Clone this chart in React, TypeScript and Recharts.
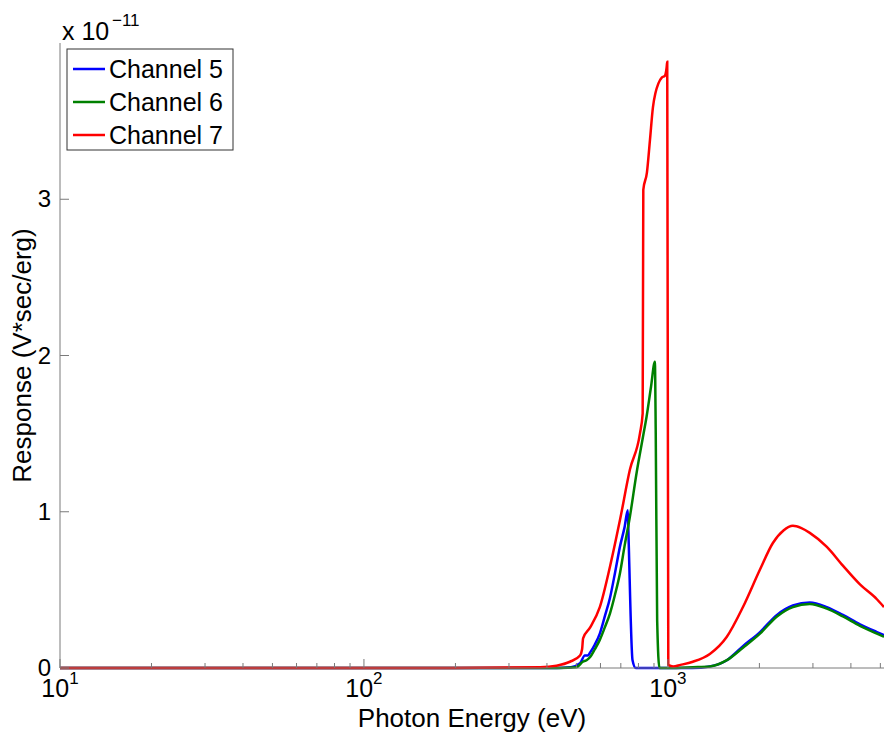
import { LineChart, Line, XAxis, YAxis } from "recharts";

// photon energy (eV) and response (x 1e-11 V*sec/erg) per channel
const energy5 = [10, 430, 480, 514, 533, 545, 555, 575, 597, 620, 645, 670, 696, 720, 738, 742, 765, 784, 1000, 1200, 1374, 1563, 1766, 2009, 2285, 2578, 2930, 3334, 3765, 4284, 4871, 5140];
const resp5 = [0, 0, 0.005, 0.03, 0.08, 0.08, 0.1, 0.15, 0.22, 0.33, 0.45, 0.61, 0.78, 0.9, 1.01, 0.85, 0.05, 0, 0, 0, 0.01, 0.05, 0.14, 0.23, 0.34, 0.4, 0.42, 0.39, 0.34, 0.28, 0.23, 0.21];

const energy6 = [10, 440, 500, 525, 540, 555, 575, 597, 620, 645, 670, 696, 720, 750, 789, 828, 851, 880, 906, 912, 922, 938, 1000, 1208, 1374, 1563, 1766, 2009, 2285, 2578, 2930, 3334, 3765, 4284, 4871, 5140];
const resp6 = [0, 0, 0.005, 0.04, 0.05, 0.07, 0.12, 0.18, 0.26, 0.35, 0.47, 0.61, 0.78, 0.97, 1.25, 1.48, 1.61, 1.8, 1.96, 1.5, 0.3, 0, 0, 0.005, 0.01, 0.05, 0.13, 0.22, 0.33, 0.39, 0.41, 0.38, 0.33, 0.27, 0.22, 0.2];

const energy7 = [10, 170, 380, 430, 476, 514, 522, 526, 555, 597, 645, 696, 750, 809, 826, 830, 853, 873, 893, 910, 930, 956, 977, 990, 995, 1003, 1040, 1100, 1208, 1374, 1563, 1766, 2009, 2215, 2400, 2578, 2750, 2930, 3334, 3765, 4284, 4871, 5140];
const resp7 = [0, 0, 0.005, 0.015, 0.04, 0.08, 0.12, 0.19, 0.26, 0.39, 0.65, 0.95, 1.27, 1.5, 1.63, 3.06, 3.17, 3.38, 3.59, 3.68, 3.74, 3.78, 3.79, 3.84, 3.88, 0.02, 0.01, 0.02, 0.04, 0.09, 0.2, 0.39, 0.63, 0.8, 0.88, 0.91, 0.895, 0.865, 0.775, 0.655, 0.535, 0.44, 0.39];

const xTicks = [10, 20, 30, 40, 50, 60, 70, 80, 90, 100, 200, 300, 400, 500, 600, 700, 800, 900, 1000, 2000, 3000, 4000, 5000];
const yTicks = [0, 1, 2, 3];
const majorX = [10, 100, 1000];

const series = [
  { name: "Channel 5", color: "#0000ff", energy: energy5, resp: resp5 },
  { name: "Channel 6", color: "#008000", energy: energy6, resp: resp6 },
  { name: "Channel 7", color: "#ff0000", energy: energy7, resp: resp7 },
];

const FONT = "'Liberation Sans', Arial, sans-serif";
const AXIS = "#7a7a7a";

const BottomTick = (props: any) => {
  const { x, y, payload } = props;
  const v = payload.value;
  const major = majorX.includes(v);
  return (
    <g>
      <line x1={x} y1={y} x2={x} y2={y - (major ? 9 : 5)} stroke={AXIS} />
      {major && (
        <text x={x} y={y + 29} textAnchor="middle" fontSize={25} fontFamily={FONT} fill="#000">
          <tspan>10</tspan>
          <tspan dy={-13} fontSize={17}>{Math.round(Math.log10(v))}</tspan>
        </text>
      )}
    </g>
  );
};

const TopTick = (props: any) => {
  const { x, y, payload } = props;
  const major = majorX.includes(payload.value);
  return <line x1={x} y1={y} x2={x} y2={y + (major ? 9 : 5)} stroke={AXIS} />;
};

const LeftTick = (props: any) => {
  const { x, y, payload } = props;
  return (
    <g>
      <line x1={x} y1={y} x2={x + 9} y2={y} stroke={AXIS} />
      <text x={x - 9} y={y + 8} textAnchor="end" fontSize={24} fontFamily={FONT} fill="#000">
        {payload.value}
      </text>
    </g>
  );
};

const RightTick = (props: any) => {
  const { x, y } = props;
  return <line x1={x} y1={y} x2={x - 9} y2={y} stroke={AXIS} />;
};

export default function App() {
  return (
    <div style={{ position: "relative", width: 885, height: 736, background: "#fff" }}>
      <style>{"body{margin:0}"}</style>
      <LineChart width={885} height={736} margin={{ top: 43, right: 1, bottom: 0, left: 0 }}>
        <XAxis
          dataKey="e"
          type="number"
          scale="log"
          domain={[10, 5140]}
          allowDataOverflow
          ticks={xTicks}
          interval={0}
          height={68}
          tickSize={0}
          tickMargin={0}
          tick={<BottomTick />}
          axisLine={{ stroke: AXIS }}
          label={{ value: "Photon Energy (eV)", position: "insideBottom", offset: 9, fontSize: 26, fontFamily: FONT, fill: "#000" }}
        />
        <XAxis
          xAxisId="top"
          orientation="top"
          dataKey="e"
          type="number"
          scale="log"
          domain={[10, 5140]}
          allowDataOverflow
          ticks={xTicks}
          interval={0}
          height={0}
          tickSize={0}
          tickMargin={0}
          tick={<TopTick />}
          axisLine={{ stroke: AXIS }}
        />
        <YAxis
          type="number"
          domain={[0, 4]}
          ticks={yTicks}
          interval={0}
          width={60}
          tickSize={0}
          tickMargin={0}
          tick={<LeftTick />}
          axisLine={{ stroke: AXIS }}
          label={{ value: "Response (V*sec/erg)", angle: -90, position: "insideLeft", offset: 22, style: { textAnchor: "middle" }, fontSize: 26, fontFamily: FONT, fill: "#000" }}
        />
        <YAxis
          yAxisId="right"
          orientation="right"
          type="number"
          domain={[0, 4]}
          ticks={yTicks}
          interval={0}
          width={0}
          tickSize={0}
          tickMargin={0}
          tick={<RightTick />}
          axisLine={{ stroke: AXIS }}
        />
        {series.map((s) => (
          <Line
            key={s.name}
            data={s.energy.map((e, i) => ({ e, r: s.resp[i] }))}
            dataKey="r"
            name={s.name}
            stroke={s.color}
            strokeWidth={2.5}
            dot={false}
            type="monotone"
            isAnimationActive={false}
          />
        ))}
      </LineChart>
      <svg width={885} height={736} style={{ position: "absolute", left: 0, top: 0, pointerEvents: "none" }}>
        <text x={62} y={40} fontSize={25} fontFamily={FONT} fill="#000">
          x 10
        </text>
        <text x={112} y={26} fontSize={17} fontFamily={FONT} fill="#000">
          −11
        </text>
        <rect x={67} y={49} width={166} height={101} fill="#fff" stroke="#333" />
        {series.map((s, i) => (
          <g key={s.name}>
            <line x1={73} x2={105} y1={69 + i * 33} y2={69 + i * 33} stroke={s.color} strokeWidth={2.5} />
            <text x={109} y={69 + i * 33 + 9} fontSize={25} fontFamily={FONT} fill="#000">
              {s.name}
            </text>
          </g>
        ))}
      </svg>
    </div>
  );
}
